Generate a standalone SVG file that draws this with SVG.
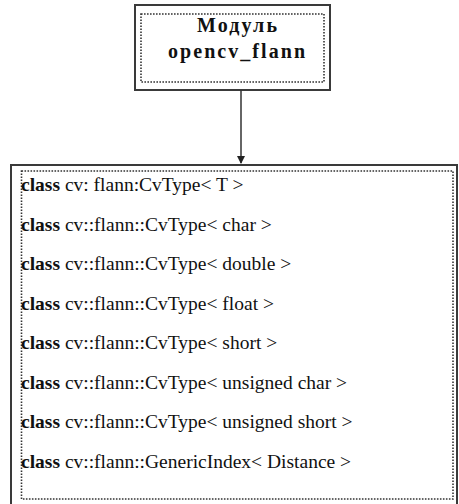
<svg xmlns="http://www.w3.org/2000/svg" width="459" height="504" viewBox="0 0 459 504">
<style>
.outer{fill:#fff;stroke:#3a3a3a;stroke-width:2}
.inner{fill:none;stroke:#333;stroke-width:1.6;stroke-dasharray:1.6 1.4}
.t{font-family:"Liberation Serif","Times New Roman",serif;fill:#111}
.h{font-size:20px;font-weight:bold}
.c{font-size:19.5px}
.k{font-weight:bold}
.conn{stroke:#333;stroke-width:1.5;fill:none}
</style>
<defs>
<marker id="arr" markerWidth="8" markerHeight="8" refX="7" refY="4" orient="auto" markerUnits="userSpaceOnUse">
<path d="M0,0 L8,4 L0,8 Z" fill="#222"/>
</marker>
</defs>
<g id="module">
<rect class="outer" x="135" y="5" width="195" height="85"/>
<rect class="inner" x="141" y="14" width="183" height="68"/>
<text class="t h" x="197" y="32" textLength="80" lengthAdjust="spacing">Модуль</text>
<text class="t h" x="168" y="58" textLength="137" lengthAdjust="spacing">opencv_flann</text>
</g>
<g id="connectors">
<line class="conn" x1="241" y1="90" x2="241" y2="163" marker-end="url(#arr)"/>
</g>
<g id="classes">
<rect class="outer" x="11" y="165" width="446" height="342"/>
<rect class="inner" x="21.5" y="171" width="431.5" height="328"/>
<text class="t c" x="21" y="191"><tspan class="k">class</tspan>  cv: flann:CvType&lt; T &gt;</text>
<text class="t c" x="21" y="231"><tspan class="k">class</tspan> cv::flann::CvType&lt; char &gt;</text>
<text class="t c" x="21" y="270"><tspan class="k">class</tspan>  cv::flann::CvType&lt; double &gt;</text>
<text class="t c" x="21" y="310"><tspan class="k">class</tspan>  cv::flann::CvType&lt; float &gt;</text>
<text class="t c" x="21" y="349"><tspan class="k">class</tspan>  cv::flann::CvType&lt; short &gt;</text>
<text class="t c" x="21" y="389"><tspan class="k">class</tspan>  cv::flann::CvType&lt; unsigned char &gt;</text>
<text class="t c" x="21" y="428"><tspan class="k">class</tspan>  cv::flann::CvType&lt; unsigned short &gt;</text>
<text class="t c" x="21" y="468"><tspan class="k">class</tspan>  cv::flann::GenericIndex&lt; Distance &gt;</text>
</g>
</svg>
